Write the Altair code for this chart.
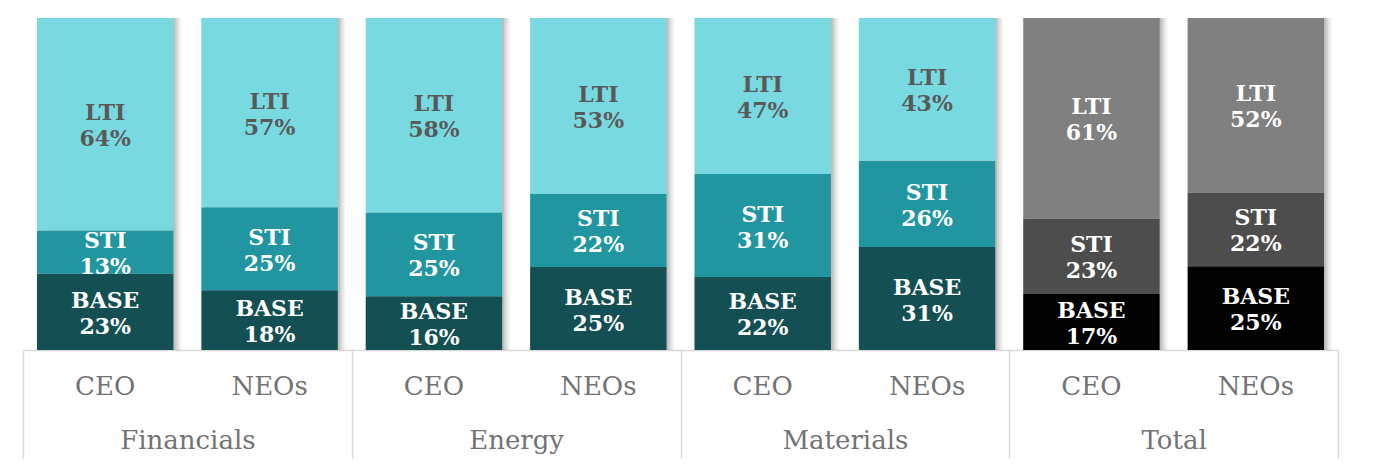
import altair as alt
import pandas as pd

groups = ["Financials", "Financials", "Energy", "Energy", "Materials", "Materials", "Total", "Total"]
roles = ["CEO", "NEOs", "CEO", "NEOs", "CEO", "NEOs", "CEO", "NEOs"]
base = [23, 18, 16, 25, 22, 31, 17, 25]
sti = [13, 25, 25, 22, 31, 26, 23, 22]
lti = [64, 57, 58, 53, 47, 43, 61, 52]
comps = ["BASE", "STI", "LTI"]
group_order = ["Financials", "Energy", "Materials", "Total"]

rows = []
for i in range(len(groups)):
    for k, (c, vals) in enumerate(zip(comps, [base, sti, lti])):
        rows.append({"group": groups[i], "role": roles[i], "key": groups[i] + "|" + roles[i],
                     "comp": c, "order": k, "value": vals[i]})
df = pd.DataFrame(rows)
key_order = [g + "|" + r for g, r in zip(groups, roles)]

color_domain = ["BASE", "STI", "LTI", "T-BASE", "T-STI", "T-LTI"]
color_range = ["#134F53", "#2296A0", "#78D9E1", "#000000", "#4D4D4D", "#808080"]

FONT = "DejaVu Serif"
AX = "#d9d9d9"

xkey = alt.X("key:N", sort=key_order, title=None,
             scale=alt.Scale(paddingInner=0.17, paddingOuter=0.085),
             axis=alt.Axis(orient="bottom", labelExpr="split(datum.label, '|')[1]",
                           ticks=False, tickSize=0, domain=True, domainColor=AX, domainWidth=1.5,
                           labelFont=FONT, labelFontSize=26, labelColor="#737373",
                           labelBaseline="middle", labelPadding=36, labelAngle=0))

base_chart = alt.Chart(df).transform_joinaggregate(
    total="sum(value)", groupby=["key"]
).transform_stack(
    stack="value", as_=["v0", "v1"], groupby=["key"], sort=[alt.SortField("order")]
).transform_calculate(
    n0="datum.v0 / datum.total",
    n1="datum.v1 / datum.total",
    mid="(datum.v0 + datum.v1) / 2 / datum.total",
    ckey="datum.group == 'Total' ? 'T-' + datum.comp : datum.comp",
    label="datum.comp + '\\n' + datum.value + '%'",
    tcolor="(datum.comp == 'LTI' && datum.group != 'Total') ? '#595959' : '#ffffff'",
)

yscale = alt.Scale(domain=[0, 1])

shadows = [
    base_chart.mark_bar(color="#000000", opacity=op, xOffset=off).encode(
        x=xkey, y=alt.Y("n0:Q", scale=yscale, axis=None), y2="n1:Q")
    for off, op in [(8, 0.04), (6, 0.06), (4, 0.08), (2, 0.10)]
]

bars = base_chart.mark_bar().encode(
    x=xkey,
    y=alt.Y("n0:Q", scale=yscale, axis=None),
    y2="n1:Q",
    color=alt.Color("ckey:N", scale=alt.Scale(domain=color_domain, range=color_range), legend=None),
)

texts = base_chart.mark_text(font=FONT, fontSize=22, fontWeight="bold", lineBreak="\n",
                             lineHeight=26, baseline="middle", align="center", dy=-11).encode(
    x=xkey,
    y=alt.Y("mid:Q", scale=yscale, axis=None),
    text="label:N",
    color=alt.Color("tcolor:N", scale=None),
)

main = alt.layer(*shadows, bars, texts)

gdf = pd.DataFrame({"group": group_order})
dummy = alt.Chart(gdf).mark_tick(opacity=0).encode(
    x=alt.X("group:N", sort=group_order, title=None,
            scale=alt.Scale(paddingInner=0, paddingOuter=0),
            axis=alt.Axis(orient="bottom", domain=False, ticks=True, tickBand="extent",
                          tickSize=108, tickColor=AX, tickWidth=1.5,
                          labelFont=FONT, labelFontSize=26, labelColor="#737373",
                          labelBaseline="middle", labelPadding=-18, labelAngle=0))
)

chart = alt.layer(main, dummy).resolve_scale(x="independent").resolve_axis(x="independent").properties(
    width=1315, height=332,
    padding={"left": 14, "top": 10, "right": 10, "bottom": 5},
).configure_view(stroke=None)

chart.save("out.html", embed_options={"renderer": "svg", "actions": False})
